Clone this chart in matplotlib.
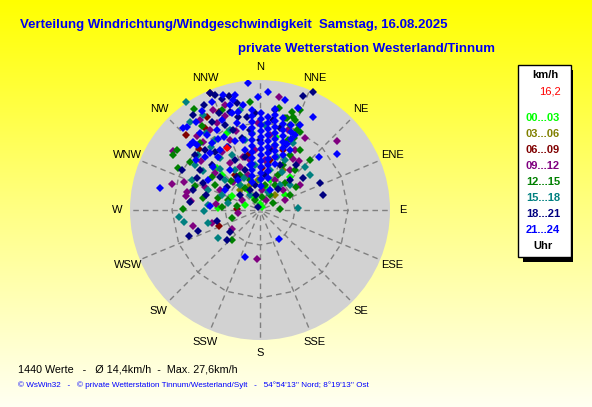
import numpy as np
import matplotlib
matplotlib.use("Agg")
import matplotlib.pyplot as plt
from matplotlib.colors import LinearSegmentedColormap
from matplotlib.patches import Circle, Rectangle, Polygon

# -----------------------------
# Data: wind vectors (east, north component), plot units (outer ring = 26)
# -----------------------------
lime_00_03 = [(-9.4, 8.6), (-1.0, 2.2), (0.4, 0.6), (6.0, 6.6), (-5.6, 2.8), (-8.4, 0.4),
              (-6.6, 15.4), (-8.6, 8.4), (-3.0, 1.0), (3.2, 14.6), (1.2, 4.4), (-1.2, 2.6),
              (-4.0, 5.0), (2.0, 6.0), (5.0, 3.0), (-7.6, 7.0), (-2.4, 4.0), (0.0, 1.2)]

olive_03_06 = [(1.0, 7.0), (-2.0, 5.0), (3.0, 3.0), (4.6, 8.0), (-4.0, 4.0), (-0.4, 6.0),
               (1.6, 9.4)]

maroon_06_09 = [(-10.0, 23.4), (-8.2, 19.6), (-10.6, 18.6), (-12.2, 12.2), (-14.8, 15.0),
                (-4.6, 0.2), (-8.2, -3.2), (4.6, 12.0), (0.4, 8.4), (-2.4, 11.0), (2.0, 10.0),
                (-5.0, 7.0), (-11.0, 16.4)]

purple_09_12 = [(3.8, 22.6), (15.4, 13.8), (-17.4, 11.8), (-17.6, 5.2), (-15.2, 5.6),
                (-14.8, 2.8), (-13.8, 1.8), (-13.4, -3.2), (-5.6, -3.8), (-8.6, 17.4),
                (-7.0, 21.0), (5.0, 2.0), (-0.6, -9.8), (-9.6, -2.6), (-8.8, 1.2), (-4.4, -0.6),
                (7.8, 9.8), (-9.4, 20.0), (-11.4, 13.6), (-14.6, 3.6), (-4.0, 8.6), (-3.4, 10.6),
                (-2.0, 10.0), (-6.0, 9.4), (-7.6, 11.6), (1.0, 10.0), (3.0, 6.0), (6.0, 8.0),
                (-1.0, 12.0), (-2.4, 7.0), (0.4, 4.0), (4.6, 4.0), (8.0, 5.0), (7.0, 12.0),
                (2.0, 15.0), (-10.0, 16.0), (-12.0, 18.0), (-6.0, 14.0), (-0.4, 17.4),
                (5.6, 16.0), (9.0, 14.4), (-11.8, 9.8), (-8.0, 4.0), (-5.4, 5.6), (-3.6, 2.0),
                (2.8, 12.6), (-12.6, 14.8), (-7.0, 18.8), (-4.8, 15.8), (-9.0, 7.4), (1.2, 2.0),
                (6.6, 10.2), (-11.0, 4.6)]

green_12_15 = [(-13.2, 20.2), (-2.0, 21.6), (5.4, 18.4), (7.0, 18.0), (8.0, 15.6), (6.8, 14.4),
               (-16.6, 12.0), (-17.4, 11.0), (-16.4, 8.4), (-15.4, 0.2), (-5.6, -6.0),
               (4.0, 0.2), (5.0, 18.4), (6.6, 18.6), (7.4, 16.0), (5.6, 14.0), (4.6, 9.0),
               (5.0, 5.4), (3.8, 20.4), (-11.6, 16.8), (-7.6, 0.6), (-4.6, 0.8), (-5.6, -1.6),
               (6.0, 11.0), (8.0, 12.0), (2.0, 3.0), (-1.0, 2.0), (6.0, 3.0), (-6.4, 2.0),
               (-4.0, 7.0), (1.0, 5.0), (3.6, 7.0), (7.0, 8.0), (10.0, 10.0), (-2.0, 6.0),
               (-9.0, 5.0), (8.0, 20.0), (6.0, 17.0), (-7.6, 20.0), (6.4, 19.6), (7.8, 17.0),
               (-13.0, 4.8), (-11.4, 2.4), (-8.4, 2.4), (-3.0, 4.4), (0.4, 2.6), (2.6, 1.4),
               (-5.8, 5.8), (-9.6, 6.6), (7.2, 4.6), (3.0, 5.0), (-12.0, 13.4), (-14.0, 9.6)]

teal_15_18 = [(-14.8, 21.6), (-11.4, 19.0), (-13.6, 6.0), (-16.2, -1.4), (-15.2, -2.4),
              (-10.4, -2.6), (-8.4, -5.6), (7.6, 0.4), (9.0, 8.6), (-11.2, -0.2), (-11.4, 7.8),
              (-10.4, 1.0), (6.6, 13.4), (-7.0, 6.0), (-4.0, 5.0), (0.0, 6.0), (2.0, 8.0),
              (4.0, 5.0), (-2.0, 3.0), (-5.0, 8.0), (-1.0, 9.0), (5.0, 10.0), (3.0, 13.0),
              (-3.0, 14.0), (-6.0, 16.0), (-9.0, 14.0), (1.0, 17.0), (-7.6, 3.0), (-10.4, 4.0),
              (10.0, 7.0), (-13.0, 9.0), (-4.0, 20.0), (-8.0, 10.4), (3.4, 10.6), (-1.6, 15.4),
              (-12.4, 11.0), (-9.8, 12.6), (-8.0, 8.2), (-5.6, 11.0), (-3.2, 6.4), (1.6, 3.6),
              (4.4, 7.6), (-6.4, 1.4), (-10.8, 15.4), (-14.0, 17.6), (6.0, 5.0)]

navy_18_21 = [(-10.0, 23.4), (-9.0, 23.0), (-7.6, 22.2), (-6.2, 22.8), (-4.6, 21.4), (8.6, 22.8),
              (10.6, 23.6), (8.6, 6.4), (12.6, 3.0), (-14.2, -5.2), (-11.4, 5.4), (-6.0, -4.4),
              (-6.6, -6.0), (-13.0, 11.0), (-14.0, 1.6), (-12.4, -4.2), (-8.6, -2.2), (-0.4, 0.6),
              (-8.2, 19.4), (-4.4, 18.6), (-2.6, 18.6), (-5.4, 16.0), (-3.6, 14.4), (-6.4, 12.6),
              (-8.0, 6.6), (-4.6, 6.6), (-13.4, 4.0), (-6.6, 4.6), (-2.0, 4.0), (-15.6, 8.0),
              (2.6, 18.0), (-1.0, 5.0), (1.0, 7.0), (4.0, 9.0), (-3.0, 8.0), (-5.0, 10.0),
              (2.0, 12.0), (0.0, 14.0), (5.0, 13.0), (-2.0, 16.0), (3.0, 20.0), (-9.6, 9.0),
              (-11.0, 12.0), (6.0, 6.0), (7.2, 9.0), (-4.0, 3.0), (12.0, 5.4), (-11.2, 21.0),
              (-12.0, 8.0), (-9.0, 11.6), (-7.0, 17.0), (-3.0, 10.6), (-0.8, 3.0), (3.6, 4.2),
              (-10.8, 3.0), (-12.6, 6.4), (-6.0, 19.6), (-9.6, 17.6), (-13.4, 19.0), (4.0, 16.4),
              (-1.0, 19.4)]

blue_21_24 = [
    # column north-north-west of centre
    (-1.6, 20.0), (-1.6, 18.8), (-1.6, 17.6), (-1.6, 16.4), (-1.6, 15.2), (-1.6, 14.0),
    (-1.6, 12.8), (-1.6, 11.6), (-1.6, 10.4), (-1.6, 9.2), (-1.6, 8.0), (-1.6, 6.8), (-1.6, 5.6),
    # column north
    (0.2, 19.4), (0.2, 18.2), (0.2, 17.0), (0.2, 15.8), (0.2, 14.6), (0.2, 13.4), (0.2, 12.2),
    (0.2, 11.0), (0.2, 9.8), (0.2, 8.6), (0.2, 7.4), (0.2, 6.2), (0.2, 4.8),
    # columns north-north-east
    (1.6, 18.6), (1.6, 17.4), (1.6, 16.2), (1.6, 15.0), (1.6, 13.8), (1.6, 12.6), (1.6, 11.4),
    (1.6, 10.2), (1.6, 9.0), (1.6, 7.8), (1.6, 6.4),
    (3.0, 20.2), (3.0, 19.0), (3.0, 17.8), (3.0, 16.6), (3.0, 15.4), (3.0, 14.2), (3.0, 13.0),
    (3.0, 11.8), (3.0, 10.6), (3.0, 9.2),
    (4.6, 18.4), (4.6, 17.2), (4.6, 16.0), (4.6, 14.8), (4.6, 13.6), (4.6, 12.4), (4.6, 11.0),
    (6.2, 17.0), (6.2, 15.6), (6.2, 14.2), (5.4, 13.2),
    # scattered
    (-2.4, 25.4), (7.6, 20.4), (10.6, 18.6), (11.8, 10.6), (15.4, 11.2), (3.8, -5.8),
    (-3.0, -9.4), (-20.0, 4.4), (-15.4, 16.4), (-14.6, 16.6), (-13.4, 13.6), (-12.6, 13.0),
    (-10.0, 0.8), (-14.0, 13.0), (-10.6, 15.0), (-9.6, 13.4), (-8.6, 16.0), (-7.6, 18.0),
    (-5.6, 19.4), (-4.4, 19.6), (-4.6, 17.4), (-3.4, 16.6), (-6.6, 12.6), (-8.4, 10.6),
    (-9.4, 8.6), (-6.0, 8.0), (-10.4, 6.0), (-5.4, 22.0), (-5.0, 23.0), (-7.4, 23.0),
    (-6.0, 21.0), (-3.0, 12.0), (-2.0, 9.0), (-4.4, 6.0), (-7.0, 4.0), (2.0, 4.0), (6.0, 12.0),
    (7.0, 15.0), (8.0, 17.0), (5.0, 22.0), (1.6, 23.6), (-0.4, 22.6), (-12.0, 15.4),
    (-11.0, 10.6), (-7.2, 14.6), (-5.0, 13.8), (-12.8, 17.6), (-3.4, 21.0), (-11.6, 19.8),
    (-9.6, 21.6), (-8.4, 14.2), (-10.0, 11.4), (-12.8, 10.0), (-8.0, 12.0), (-3.4, 14.0)]

current = (-6.6, 12.4)       # red marker, 16,2 km/h

group_colors = ['#00FF00', '#808000', '#800000', '#800080',
                '#008000', '#008080', '#000080', '#0000FF']
group_labels = ['00...03', '03...06', '06...09', '09...12',
                '12...15', '15...18', '18...21', '21...24']
groups = [lime_00_03, olive_03_06, maroon_06_09, purple_09_12,
          green_12_15, teal_15_18, navy_18_21, blue_21_24]

directions = ['N', 'NNE', 'NE', 'ENE', 'E', 'ESE', 'SE', 'SSE',
              'S', 'SSW', 'SW', 'WSW', 'W', 'WNW', 'NW', 'NNW']

R_MAX = 26.0
ring_radii = [7.0, 17.6]

W, H = 592, 407


def fx(px):
    return px / W


def fy(py):
    return 1 - py / H


fig = plt.figure(figsize=(W / 100, H / 100), dpi=100)

# -----------------------------
# yellow gradient background
# -----------------------------
bg = fig.add_axes([0, 0, 1, 1])
cmap = LinearSegmentedColormap.from_list('bg', ['#FFFF00', '#FFFF80', '#FFFFF2'])
bg.imshow(np.linspace(0, 1, 256).reshape(-1, 1), aspect='auto', cmap=cmap,
          extent=[0, 1, 0, 1])
bg.set_axis_off()

# -----------------------------
# wind rose
# -----------------------------
ax = fig.add_axes([fx(130), fy(340), 260 / W, 260 / H])
ax.set_xlim(-R_MAX, R_MAX)
ax.set_ylim(-R_MAX, R_MAX)
ax.set_axis_off()
ax.add_patch(Circle((0, 0), R_MAX, fc='#D2D2D2', ec='none', zorder=0))

ang = np.deg2rad(np.arange(16) * 22.5)
for a in ang:
    ax.plot([np.sin(a) * 1.0, np.sin(a) * R_MAX], [np.cos(a) * 1.0, np.cos(a) * R_MAX],
            color='#808080', lw=1, ls=(0, (4, 3)), zorder=1)
for rr in ring_radii:
    poly = np.column_stack([np.sin(ang) * rr, np.cos(ang) * rr])
    ax.add_patch(Polygon(poly, closed=True, fill=False, ec='#808080', lw=1,
                         ls=(0, (4, 3)), zorder=1))
ax.add_patch(Rectangle((-0.5, -0.5), 1.0, 1.0, fc='#A0A0A0', ec='none', zorder=1))

for a, name in zip(ang, directions):
    ax.text(np.sin(a) * 28.6, np.cos(a) * 28.6, name, ha='center', va='center',
            fontsize=8, family='Liberation Sans', clip_on=False)

for pts, col in zip(groups, group_colors):
    u = [p[0] for p in pts]
    v = [p[1] for p in pts]
    ax.plot(u, v, ls='none', marker='D', ms=4.2, mew=0, color=col, zorder=3)
ax.plot(current[0], current[1], ls='none', marker='D', ms=4.2, mew=0, color='#FF0000', zorder=4)

# -----------------------------
# titles and footer
# -----------------------------
fig.text(fx(20), fy(25), 'Verteilung Windrichtung/Windgeschwindigkeit  Samstag, 16.08.2025',
         color='#0000F0', fontsize=9.5, fontweight='bold', family='Liberation Sans',
         va='center')
fig.text(fx(238), fy(49), 'private Wetterstation Westerland/Tinnum',
         color='#0000F0', fontsize=9.5, fontweight='bold', family='Liberation Sans',
         va='center')
fig.text(fx(18), fy(369), '1440 Werte   -   Ø 14,4km/h  -  Max. 27,6km/h',
         fontsize=7.75, family='Liberation Sans', va='center')
fig.text(fx(18), fy(385),
         "© WsWin32   -   © private Wetterstation Tinnum/Westerland/Sylt   -   "
         "54°54'13'' Nord; 8°19'13'' Ost",
         color='#0000FF', fontsize=5.85, family='Liberation Sans', va='center')

# -----------------------------
# legend box
# -----------------------------
fig.add_artist(Rectangle((fx(523), fy(262)), 50 / W, 192 / H, transform=fig.transFigure,
                         fc='black', ec='none'))
fig.add_artist(Rectangle((fx(518), fy(257)), 53 / W, 192 / H, transform=fig.transFigure,
                         fc='white', ec='black', lw=1))
fig.text(fx(545), fy(75), 'km/h', fontsize=8, fontweight='bold', ha='center', va='center',
         family='Liberation Sans')
fig.text(fx(561), fy(92), '16,2', fontsize=8, color='#FF0000', ha='right', va='center',
         family='Liberation Sans')
for i, (lab, col) in enumerate(zip(group_labels, group_colors)):
    fig.text(fx(543), fy(118 + i * 16), lab, fontsize=8, fontweight='bold', color=col,
             ha='center', va='center', family='Liberation Sans')
fig.text(fx(543), fy(246), 'Uhr', fontsize=8, fontweight='bold', ha='center', va='center',
         family='Liberation Sans')

fig.savefig('out.png', dpi=100)
